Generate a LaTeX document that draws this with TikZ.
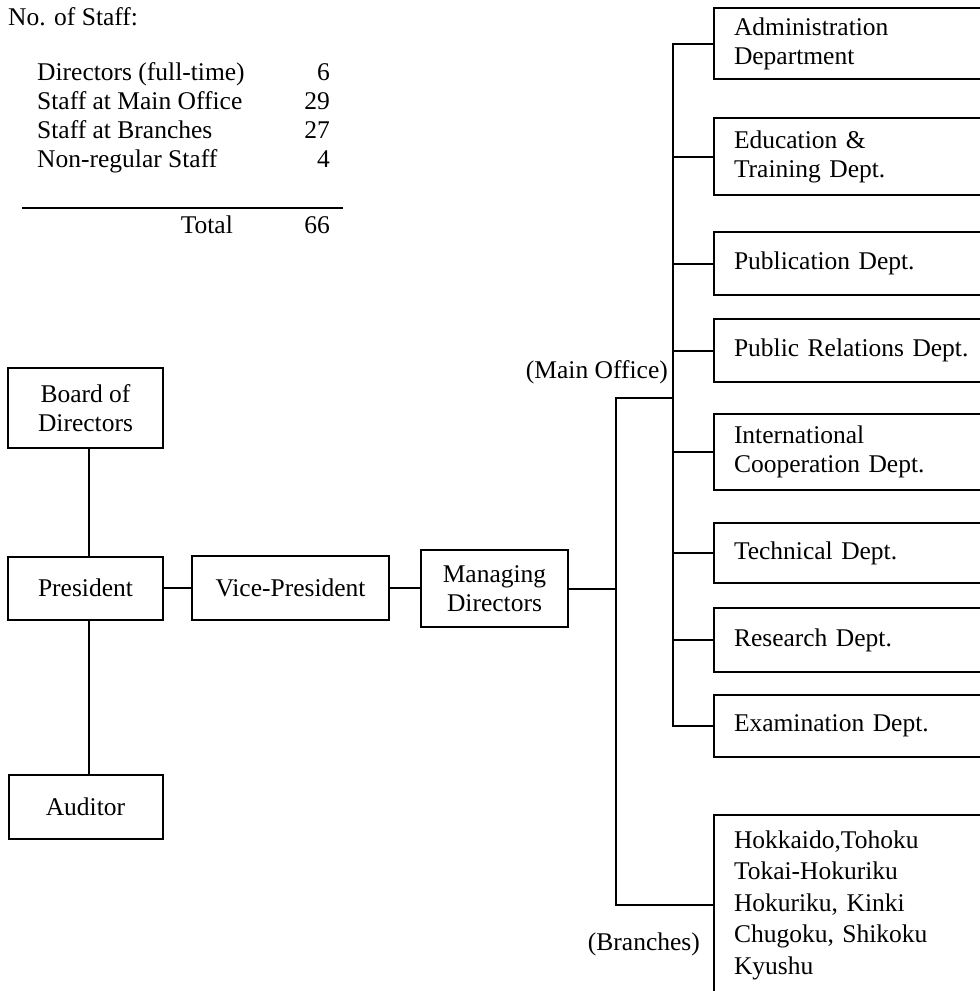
\documentclass[tikz,border=0pt]{standalone}
\usepackage{fontspec}
\setmainfont{Liberation Serif}
\begin{document}
\begin{tikzpicture}[x=1pt,y=-1pt,
  every node/.style={font=\fontsize{25.5}{29}\selectfont},
  line/.style={line width=2pt},
  box/.style={draw, line width=2pt, align=center, inner sep=0pt},
  dept/.style={draw, line width=2pt, anchor=west, align=left, text width=260pt, inner xsep=20pt, inner ysep=0pt},
  lbl/.style={inner sep=0pt}
]
\clip (0,0) rectangle (980,991);
\fill[white] (0,0) rectangle (980,991);

% staff table
\node[lbl, anchor=base west] (title) at (8,25) {No. of Staff:};
\node[lbl, anchor=base west] (r1) at (37,80) {Directors (full-time)};
\node[lbl, anchor=base west] (r2) at (37,109) {Staff at Main Office};
\node[lbl, anchor=base west] (r3) at (37,138) {Staff at Branches};
\node[lbl, anchor=base west] (r4) at (37,167) {Non-regular Staff};
\node[lbl, anchor=base east] (n1) at (330,80) {6};
\node[lbl, anchor=base east] (n2) at (330,109) {29};
\node[lbl, anchor=base east] (n3) at (330,138) {27};
\node[lbl, anchor=base east] (n4) at (330,167) {4};
\coordinate (rl) at (22,208);
\coordinate (rr) at (343,208);
\draw[line width=1.6pt] (rl) -- (rr);
\node[lbl, anchor=base east] (tot) at (233,233) {Total};
\node[lbl, anchor=base east] (ntot) at (330,233) {66};

% left chain
\node[box, minimum width=155pt, minimum height=80pt] (board) at (85.5,408) {Board of\\Directors};
\node[box, minimum width=155pt, minimum height=63pt] (pres) at (85.5,588) {President};
\node[box, minimum width=154pt, minimum height=64pt] (aud) at (85.5,807) {Auditor};
\node[box, minimum width=197pt, minimum height=64pt] (vp) at (290.5,588) {Vice-President};
\node[box, minimum width=147pt, minimum height=77pt] (md) at (494.5,588.5) {Managing\\Directors};

\draw[line] ([xshift=3.5pt]board.south) -- ([xshift=3.5pt]pres.north);
\draw[line] ([xshift=3.5pt]pres.south) -- ([xshift=3.5pt]aud.north);
\draw[line] (pres.east) -- (pres.east -| vp.west);
\draw[line] (vp.east) -- (vp.east -| md.west);

% departments
\node[dept, minimum height=71pt] (admin) at (713,43.5) {Administration\\Department};
\node[dept, minimum height=77pt] (edu) at (713,156.5) {Education \&\\Training Dept.};
\node[dept, minimum height=63pt] (pub) at (713,263.5) {Publication Dept.};
\node[dept, minimum height=63pt] (pr) at (713,350.5) {Public Relations Dept.};
\node[dept, minimum height=76pt] (intl) at (713,452) {International\\Cooperation Dept.};
\node[dept, minimum height=60pt] (tech) at (713,553) {Technical Dept.};
\node[dept, minimum height=64pt] (res) at (713,640) {Research Dept.};
\node[dept, minimum height=62pt] (exam) at (713,726) {Examination Dept.};
\node[dept, minimum height=180pt, font=\fontsize{25.5}{31.5}\selectfont] (br) at (713,905) {Hokkaido,Tohoku\\Tokai-Hokuriku\\Hokuriku, Kinki\\Chugoku, Shikoku\\Kyushu};

\node[lbl, anchor=base east] (molbl) at (668,378) {(Main Office)};
\node[lbl, anchor=base east] (brlbl) at (700,950) {(Branches)};

% connectors
\coordinate (bus) at (673,0);
\coordinate (ob) at (616,398);
\draw[line] (admin.west) -- (admin.west -| bus) -- (exam.west -| bus) -- (exam.west);
\foreach \d in {edu,pub,pr,intl,tech,res}
  \draw[line] (\d.west) -- (\d.west -| bus);
\draw[line] (ob -| bus) -- (ob) -- (ob |- br.west) -- (br.west);
\draw[line] (md.east) -- (md.east -| ob);
\end{tikzpicture}
\end{document}
